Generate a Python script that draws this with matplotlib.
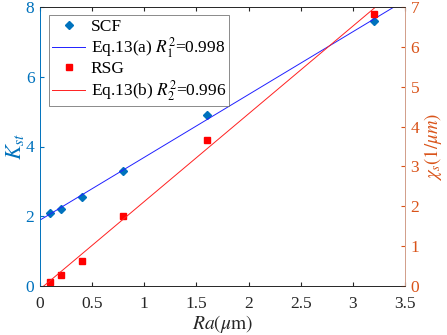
import numpy as np
import matplotlib
matplotlib.use("Agg")
import matplotlib.pyplot as plt

plt.rcParams['font.family'] = ['Liberation Serif', 'DejaVu Serif']
plt.rcParams['mathtext.fontset'] = 'stix'

ra = [0.1, 0.2, 0.4, 0.8, 1.6, 3.2]
k_st = [2.1, 2.2, 2.55, 3.3, 4.9, 7.6]
chi_s = [0.09, 0.27, 0.63, 1.76, 3.66, 6.82]
fit_a = (1.80, 1.89)   # slope, intercept (K_st)
fit_b = (2.20, -0.08)  # slope, intercept (chi_s)

blue = '#0072BD'
orange = '#D95319'

fig = plt.figure(figsize=(4.47, 3.35), dpi=100)
ax = fig.add_axes([40/447, 1-286/335, 365/447, 279/335])
ax2 = ax.twinx()

xs = np.linspace(0, 3.5, 50)
h1, = ax.plot(ra, k_st, 'D', color=blue, ms=4.5, label='SCF')
h2, = ax.plot(xs, fit_a[0]*xs + fit_a[1], '-', color='#2020ff', lw=0.7,
              label=r'Eq.13(a) $R_1^2$=0.998')
h3, = ax2.plot(ra, chi_s, 's', color='red', ms=4.5, label='RSG')
h4, = ax2.plot(xs, fit_b[0]*xs + fit_b[1], '-', color='#ff2020', lw=0.7,
               label=r'Eq.13(b) $R_2^2$=0.996')

ax.set_xlim(0, 3.5)
ax.set_ylim(0, 8)
ax2.set_ylim(0, 7)
ax.set_xticks([0, 0.5, 1, 1.5, 2, 2.5, 3, 3.5])
ax.set_xticklabels(['0', '0.5', '1', '1.5', '2', '2.5', '3', '3.5'])
ax.set_yticks([0, 2, 4, 6, 8])
ax2.set_yticks(range(8))

fs = 12.5
ax.tick_params(axis='x', direction='in', top=True, labelsize=fs, colors='#262626', length=3, pad=7)
ax.tick_params(axis='y', direction='in', labelsize=fs, colors=blue, length=3, pad=4)
ax2.tick_params(axis='y', direction='in', labelsize=fs, colors=orange, length=3, pad=4)

for s in ['top', 'bottom']:
    ax.spines[s].set_color('#262626')
    ax2.spines[s].set_color('#262626')
ax2.spines['left'].set_color(blue)
ax2.spines['right'].set_color('#F4B8A0')
ax.spines['left'].set_color(blue)
for sp in list(ax.spines.values()) + list(ax2.spines.values()):
    sp.set_linewidth(0.6)

ax.set_xlabel(r'$Ra(\mu\mathrm{m})$', fontsize=14, color='#262626', labelpad=1)
ax.set_ylabel(r'$K_{st}$', fontsize=16, color=blue, labelpad=0)
ax2.set_ylabel(r'$\chi_s(1/\mu m)$', fontsize=13.5, color=orange, labelpad=2)

leg = ax2.legend(handles=[h1, h2, h3, h4], loc='upper left', fontsize=12.5,
                 frameon=True, fancybox=False, edgecolor='#555555',
                 bbox_to_anchor=(0.01, 0.99), borderpad=0.2, handlelength=1.9,
                 labelspacing=0.05, handletextpad=0.3, borderaxespad=0.3)
leg.get_frame().set_linewidth(0.6)

fig.savefig('out.png', dpi=100)
